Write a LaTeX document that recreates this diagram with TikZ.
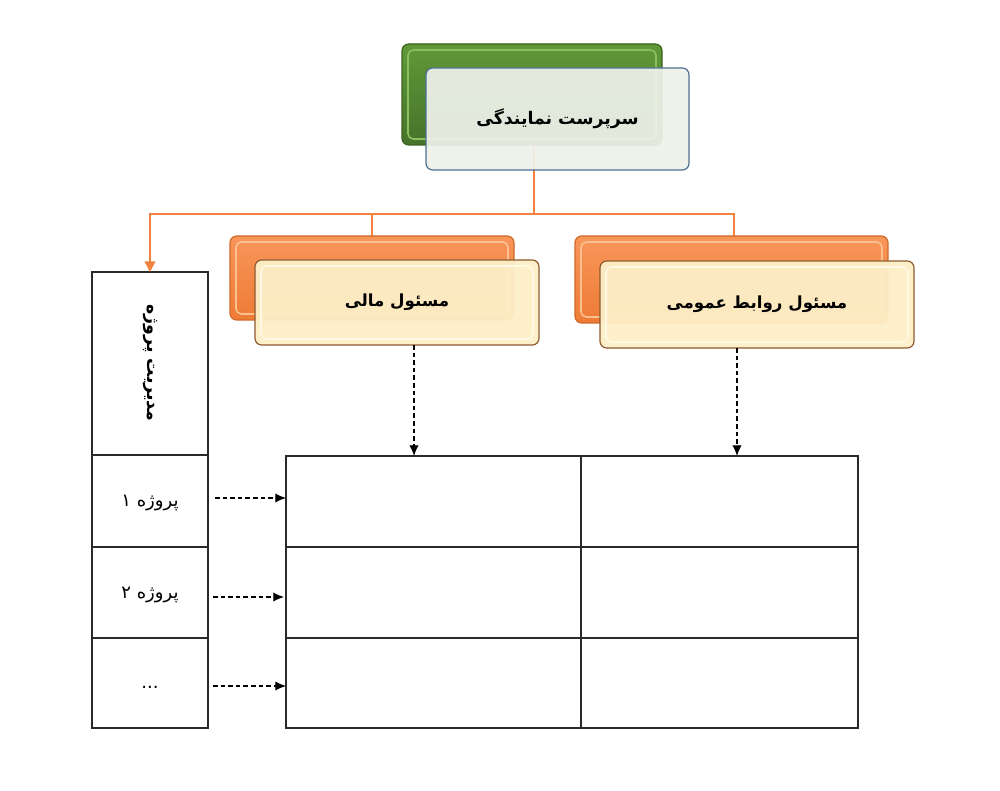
\documentclass[tikz,border=0pt]{standalone}
\usepackage{fontspec}
\newfontfamily\fa[Script=Arabic]{DejaVu Sans}
\TeXXeTstate=1
\usetikzlibrary{arrows.meta,calc}
\definecolor{gtop}{HTML}{629838}
\definecolor{gbot}{HTML}{44742A}
\definecolor{gborder}{HTML}{3A6420}
\definecolor{ghl}{HTML}{8CBF60}
\definecolor{tfill}{HTML}{EEF2EA}
\definecolor{tborder}{HTML}{4D6F92}
\definecolor{otop}{HTML}{F8965A}
\definecolor{obot}{HTML}{EE7B35}
\definecolor{oborder}{HTML}{D0692A}
\definecolor{ohl}{HTML}{FBC08F}
\definecolor{ofill}{HTML}{FDEFC8}
\definecolor{fborder}{HTML}{8E5A2E}
\definecolor{fhl}{HTML}{FFF8E4}
\definecolor{conn}{HTML}{F3823F}
\definecolor{grid}{HTML}{2A2A2A}
\begin{document}
\begin{tikzpicture}[x=0.75pt,y=-0.75pt,
  box/.style={rectangle, rounded corners=5pt, inner sep=0pt, outer sep=0pt, line width=0.9pt},
  gbackbox/.style={box, draw=gborder, top color=gtop, bottom color=gbot},
  obackbox/.style={box, draw=oborder, top color=otop, bottom color=obot},
  topfront/.style={box, draw=tborder, fill=tfill, fill opacity=0.93, text opacity=1, font=\fa\bfseries\fontsize{13}{15}\selectfont},
  ofront/.style={box, draw=fborder, fill=ofill, fill opacity=0.95, text opacity=1, font=\fa\bfseries\fontsize{12.5}{15}\selectfont},
  cell/.style={rectangle, draw=grid, line width=0.9pt, inner sep=0pt, outer sep=0pt},
  celltext/.style={font=\fa\fontsize{13.5}{15}\selectfont},
  orangeline/.style={draw=conn, line width=1.1pt},
  dashconn/.style={draw=black, line width=0.9pt, dash pattern=on 3.5pt off 2.2pt, -{Latex[length=8pt,width=7pt]}}
]
\useasboundingbox[fill=white] (0,0) rectangle (1000,791);

% hub coordinate for the orange connectors
\coordinate (hub) at (534,214);

% left column
\node[cell, minimum width=87pt, minimum height=137.25pt] (pm) at (150,363.5) {};
\node[font=\fa\bfseries\fontsize{13}{15}\selectfont, rotate=-90] (pmtext) at (150,363) {\beginR مدیریت پروژه\endR};
\node[cell, minimum width=87pt, minimum height=69pt] (p1) at (150,501) {};
\node[cell, minimum width=87pt, minimum height=68.25pt] (p2) at (150,592.5) {};
\node[cell, minimum width=87pt, minimum height=67.5pt] (p3) at (150,683) {};
\node[celltext] (p1text) at ($(p1.center)+(0,2)$) {\beginR پروژه ۱\endR};
\node[celltext] (p2text) at ($(p2.center)+(0,2)$) {\beginR پروژه ۲\endR};
\node[celltext] (p3text) at ($(p3.center)+(0,4)$) {...};

% right grid
\node[cell, minimum width=221.25pt, minimum height=68.25pt] (c11) at (433.5,501.5) {};
\node[cell, minimum width=207.75pt, minimum height=68.25pt] (c12) at (719.5,501.5) {};
\node[cell, minimum width=221.25pt, minimum height=68.25pt] (c21) at (433.5,592.5) {};
\node[cell, minimum width=207.75pt, minimum height=68.25pt] (c22) at (719.5,592.5) {};
\node[cell, minimum width=221.25pt, minimum height=67.5pt] (c31) at (433.5,683) {};
\node[cell, minimum width=207.75pt, minimum height=67.5pt] (c32) at (719.5,683) {};

% green back box
\node[gbackbox, minimum width=195pt, minimum height=75.75pt] (gback) at (532,94.5) {};
\draw[ghl, line width=1.2pt, rounded corners=4pt] ($(gback.north west)+(6,6)$) rectangle ($(gback.south east)+(-6,-6)$);

% orange connectors (behind the front boxes)
\draw[orangeline, line width=2pt] (gback.south -| hub) -- (hub);
\draw[orangeline] (hub) -| (372,237);
\draw[orangeline] (hub) -| (734,237);
\draw[orangeline, -{Triangle[length=8pt,width=8pt]}] (hub) -| (pm.north);

% top front box
\node[topfront, minimum width=197.25pt, minimum height=76.5pt] (top) at (557.5,119) {\beginR سرپرست نمایندگی\endR};

% orange back boxes
\node[obackbox, minimum width=213pt, minimum height=63pt] (oback1) at (372,278) {};
\draw[ohl, line width=1.2pt, rounded corners=4pt] ($(oback1.north west)+(6,6)$) rectangle ($(oback1.south east)+(-6,-6)$);
\node[obackbox, minimum width=234.75pt, minimum height=65.25pt] (oback2) at (731.5,279.5) {};
\draw[ohl, line width=1.2pt, rounded corners=4pt] ($(oback2.north west)+(6,6)$) rectangle ($(oback2.south east)+(-6,-6)$);

% orange front boxes
\node[ofront, minimum width=213pt, minimum height=63.75pt] (of1) at (397,302.5) {\beginR مسئول مالی\endR};
\draw[fhl, line width=1.2pt, rounded corners=4pt] ($(of1.north west)+(6,6)$) rectangle ($(of1.south east)+(-6,-6)$);
\node[ofront, minimum width=235.5pt, minimum height=65.25pt] (of2) at (757,304.5) {\beginR مسئول روابط عمومی\endR};
\draw[fhl, line width=1.2pt, rounded corners=4pt] ($(of2.north west)+(6,6)$) rectangle ($(of2.south east)+(-6,-6)$);

% dashed arrows
\coordinate (d1) at ($(of1.south)+(17,0)$);
\coordinate (d2) at ($(of2.south)+(-20,0)$);
\draw[dashconn] (d1) -- (d1 |- c11.north);
\draw[dashconn] (d2) -- (d2 |- c12.north);
\coordinate (h1) at ($(p1.east)+(7,-3)$);
\coordinate (h2) at ($(p2.east)+(5,4.5)$);
\coordinate (h3) at ($(p3.east)+(5,3)$);
\draw[dashconn] (h1) -- (h1 -| c11.west);
\draw[dashconn] (h2) -- ($(h2 -| c21.west)+(-2,0)$);
\draw[dashconn] (h3) -- (h3 -| c31.west);
\end{tikzpicture}
\end{document}
